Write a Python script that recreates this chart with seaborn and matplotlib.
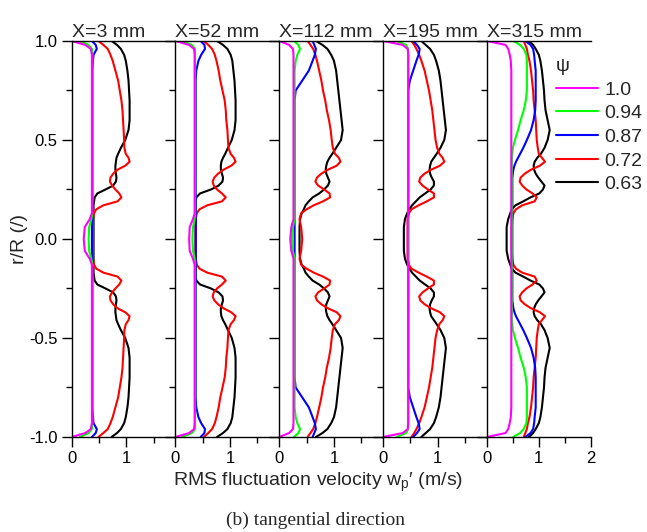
import numpy as np
import pandas as pd
import matplotlib
matplotlib.use("Agg")
import matplotlib.pyplot as plt
import seaborn as sns
from matplotlib.lines import Line2D
from matplotlib.ticker import FixedLocator, MultipleLocator, FormatStrFormatter

# r/R grid for the upper half (the measured profiles are mirror symmetric about r/R = 0)
R_HALF = [0.00, 0.06, 0.10, 0.13, 0.15, 0.17, 0.19, 0.21, 0.23, 0.25,
          0.27, 0.29, 0.31, 0.33, 0.35, 0.37, 0.39, 0.41, 0.43, 0.46,
          0.50, 0.55, 0.60, 0.65, 0.70, 0.75, 0.80, 0.85, 0.90, 0.93,
          0.96, 0.98, 1.00]

STATIONS = ["X=3 mm", "X=52 mm", "X=112 mm", "X=195 mm", "X=315 mm"]
PSI = ["1.0", "0.94", "0.87", "0.72", "0.63"]
COLORS = ["#ff00ff", "#00ff00", "#0000ff", "#ff0000", "#000000"]

# ---- X = 3 mm ----
X3_P100 = [0.22, 0.24, 0.33, 0.37, 0.37, 0.37, 0.37, 0.37, 0.37, 0.37,
           0.37, 0.37, 0.37, 0.37, 0.37, 0.37, 0.37, 0.37, 0.37, 0.37,
           0.37, 0.37, 0.37, 0.37, 0.37, 0.37, 0.37, 0.37, 0.37, 0.37,
           0.35, 0.25, 0.00]
X3_P094 = [0.31, 0.32, 0.36, 0.38, 0.38, 0.38, 0.38, 0.38, 0.38, 0.38,
           0.38, 0.38, 0.38, 0.38, 0.38, 0.38, 0.38, 0.38, 0.38, 0.38,
           0.38, 0.38, 0.38, 0.38, 0.38, 0.38, 0.38, 0.38, 0.38, 0.38,
           0.37, 0.31, 0.15]
X3_P087 = [0.37, 0.37, 0.38, 0.38, 0.38, 0.38, 0.38, 0.38, 0.38, 0.38,
           0.38, 0.38, 0.38, 0.38, 0.38, 0.38, 0.38, 0.38, 0.38, 0.38,
           0.38, 0.38, 0.38, 0.38, 0.38, 0.38, 0.38, 0.38, 0.39, 0.40,
           0.46, 0.44, 0.37]
X3_P072 = [0.39, 0.39, 0.39, 0.41, 0.45, 0.58, 0.84, 0.91, 0.87, 0.80,
           0.74, 0.70, 0.71, 0.76, 0.84, 0.98, 1.06, 1.04, 0.99, 0.965,
           0.96, 0.95, 0.94, 0.93, 0.91, 0.88, 0.85, 0.80, 0.75, 0.71,
           0.66, 0.58, 0.49]
X3_P063 = [0.40, 0.40, 0.40, 0.40, 0.40, 0.40, 0.41, 0.42, 0.47, 0.62,
           0.76, 0.81, 0.82, 0.81, 0.80, 0.80, 0.81, 0.82, 0.85, 0.90,
           0.98, 1.04, 1.06, 1.06, 1.06, 1.05, 1.04, 1.02, 0.99, 0.96,
           0.90, 0.83, 0.73]

# ---- X = 52 mm ----
X52_P100 = [0.25, 0.26, 0.32, 0.35, 0.35, 0.35, 0.35, 0.35, 0.35, 0.35,
            0.35, 0.35, 0.35, 0.35, 0.35, 0.35, 0.35, 0.35, 0.35, 0.35,
            0.35, 0.35, 0.35, 0.35, 0.35, 0.35, 0.35, 0.35, 0.35, 0.35,
            0.34, 0.25, 0.00]
X52_P094 = [0.31, 0.32, 0.35, 0.36, 0.36, 0.36, 0.36, 0.36, 0.36, 0.36,
            0.36, 0.36, 0.36, 0.36, 0.36, 0.36, 0.36, 0.36, 0.36, 0.36,
            0.36, 0.36, 0.36, 0.36, 0.36, 0.36, 0.36, 0.36, 0.36, 0.36,
            0.36, 0.30, 0.12]
X52_P087 = [0.37, 0.37, 0.37, 0.37, 0.37, 0.37, 0.37, 0.37, 0.37, 0.37,
            0.37, 0.37, 0.37, 0.37, 0.37, 0.37, 0.37, 0.37, 0.37, 0.37,
            0.37, 0.37, 0.37, 0.37, 0.37, 0.37, 0.37, 0.38, 0.42, 0.47,
            0.54, 0.53, 0.46]
X52_P072 = [0.37, 0.37, 0.37, 0.39, 0.44, 0.58, 0.85, 0.92, 0.85, 0.76,
            0.70, 0.68, 0.71, 0.78, 0.88, 1.02, 1.10, 1.07, 1.01, 0.97,
            0.96, 0.95, 0.93, 0.92, 0.90, 0.86, 0.82, 0.79, 0.75, 0.72,
            0.67, 0.60, 0.52]
X52_P063 = [0.37, 0.37, 0.37, 0.37, 0.37, 0.37, 0.37, 0.38, 0.45, 0.65,
            0.79, 0.86, 0.87, 0.85, 0.83, 0.83, 0.84, 0.87, 0.91, 0.96,
            1.03, 1.08, 1.10, 1.10, 1.10, 1.09, 1.08, 1.06, 1.04, 1.01,
            0.95, 0.87, 0.76]

# ---- X = 112 mm ----
X112_P100 = [0.20, 0.22, 0.26, 0.26, 0.26, 0.26, 0.26, 0.26, 0.26, 0.26,
             0.26, 0.26, 0.26, 0.26, 0.26, 0.26, 0.26, 0.26, 0.26, 0.26,
             0.26, 0.26, 0.26, 0.26, 0.26, 0.26, 0.26, 0.26, 0.26, 0.26,
             0.25, 0.18, 0.00]
X112_P094 = [0.23, 0.25, 0.28, 0.28, 0.28, 0.28, 0.28, 0.28, 0.28, 0.28,
             0.28, 0.28, 0.28, 0.28, 0.28, 0.28, 0.28, 0.28, 0.28, 0.28,
             0.28, 0.28, 0.28, 0.28, 0.28, 0.28, 0.28, 0.28, 0.30, 0.33,
             0.38, 0.35, 0.27]
X112_P087 = [0.28, 0.28, 0.28, 0.28, 0.28, 0.28, 0.28, 0.28, 0.28, 0.28,
             0.28, 0.28, 0.28, 0.28, 0.28, 0.28, 0.28, 0.28, 0.28, 0.28,
             0.28, 0.28, 0.28, 0.28, 0.28, 0.30, 0.42, 0.54, 0.61, 0.65,
             0.67, 0.64, 0.61]
X112_P072 = [0.42, 0.40, 0.37, 0.40, 0.50, 0.63, 0.80, 0.93, 0.92, 0.82,
             0.71, 0.66, 0.69, 0.77, 0.89, 1.05, 1.12, 1.09, 1.02, 0.98,
             0.96, 0.94, 0.91, 0.87, 0.84, 0.80, 0.77, 0.73, 0.69, 0.66,
             0.62, 0.57, 0.52]
X112_P063 = [0.37, 0.37, 0.38, 0.41, 0.45, 0.48, 0.54, 0.61, 0.73, 0.82,
             0.89, 0.92, 0.89, 0.86, 0.85, 0.86, 0.88, 0.92, 0.97, 1.04,
             1.13, 1.16, 1.14, 1.12, 1.10, 1.08, 1.06, 1.04, 1.00, 0.95,
             0.88, 0.79, 0.67]

# ---- X = 195 mm ----
X195_P100 = [0.45, 0.45, 0.45, 0.46, 0.46, 0.46, 0.46, 0.46, 0.46, 0.46,
             0.46, 0.46, 0.46, 0.46, 0.46, 0.46, 0.46, 0.46, 0.46, 0.46,
             0.46, 0.46, 0.46, 0.46, 0.46, 0.46, 0.46, 0.46, 0.46, 0.46,
             0.45, 0.36, 0.00]
X195_P094 = [0.46, 0.46, 0.46, 0.46, 0.46, 0.46, 0.46, 0.46, 0.46, 0.46,
             0.46, 0.46, 0.46, 0.46, 0.46, 0.46, 0.46, 0.46, 0.46, 0.46,
             0.46, 0.46, 0.46, 0.46, 0.46, 0.46, 0.46, 0.46, 0.46, 0.46,
             0.46, 0.42, 0.25]
X195_P087 = [0.46, 0.46, 0.46, 0.46, 0.46, 0.46, 0.46, 0.46, 0.46, 0.46,
             0.46, 0.46, 0.46, 0.46, 0.46, 0.46, 0.46, 0.46, 0.46, 0.46,
             0.46, 0.46, 0.46, 0.46, 0.46, 0.46, 0.49, 0.55, 0.61, 0.65,
             0.67, 0.62, 0.55]
X195_P072 = [0.45, 0.45, 0.45, 0.47, 0.52, 0.65, 0.80, 0.93, 0.93, 0.82,
             0.72, 0.66, 0.68, 0.76, 0.88, 1.04, 1.12, 1.09, 1.03, 0.99,
             0.96, 0.94, 0.92, 0.90, 0.87, 0.84, 0.80, 0.76, 0.70, 0.66,
             0.61, 0.57, 0.52]
X195_P063 = [0.38, 0.38, 0.40, 0.44, 0.48, 0.53, 0.60, 0.67, 0.77, 0.87,
             0.93, 0.93, 0.89, 0.86, 0.85, 0.86, 0.88, 0.93, 0.98, 1.05,
             1.12, 1.15, 1.13, 1.11, 1.09, 1.07, 1.05, 1.02, 0.97, 0.93,
             0.86, 0.78, 0.70]

# ---- X = 315 mm ----
X315_P100 = [0.47, 0.47, 0.47, 0.47, 0.47, 0.47, 0.47, 0.47, 0.47, 0.47,
             0.47, 0.47, 0.47, 0.47, 0.47, 0.47, 0.47, 0.47, 0.47, 0.47,
             0.47, 0.47, 0.47, 0.47, 0.47, 0.47, 0.47, 0.47, 0.46, 0.44,
             0.41, 0.36, 0.00]
X315_P094 = [0.48, 0.48, 0.48, 0.48, 0.48, 0.48, 0.48, 0.48, 0.48, 0.48,
             0.48, 0.48, 0.48, 0.48, 0.48, 0.48, 0.48, 0.48, 0.49, 0.50,
             0.54, 0.60, 0.65, 0.71, 0.75, 0.77, 0.77, 0.77, 0.77, 0.76,
             0.71, 0.64, 0.51]
X315_P087 = [0.49, 0.49, 0.49, 0.49, 0.49, 0.49, 0.49, 0.49, 0.49, 0.49,
             0.49, 0.49, 0.49, 0.50, 0.51, 0.53, 0.56, 0.60, 0.64, 0.70,
             0.77, 0.85, 0.90, 0.93, 0.94, 0.94, 0.94, 0.94, 0.92, 0.91,
             0.89, 0.84, 0.74]
X315_P072 = [0.48, 0.48, 0.49, 0.51, 0.56, 0.68, 0.92, 0.96, 0.88, 0.76,
             0.68, 0.63, 0.65, 0.73, 0.85, 1.02, 1.12, 1.06, 1.00, 0.98,
             0.96, 0.95, 0.94, 0.92, 0.90, 0.89, 0.87, 0.85, 0.82, 0.79,
             0.77, 0.74, 0.71]
X315_P063 = [0.38, 0.38, 0.41, 0.45, 0.48, 0.55, 0.70, 0.84, 1.01, 1.08,
             1.11, 1.05, 0.99, 0.94, 0.91, 0.90, 0.92, 0.97, 1.04, 1.11,
             1.17, 1.21, 1.17, 1.13, 1.11, 1.10, 1.08, 1.06, 1.03, 1.00,
             0.94, 0.89, 0.81]

PANELS = [
    [X3_P100, X3_P094, X3_P087, X3_P072, X3_P063],
    [X52_P100, X52_P094, X52_P087, X52_P072, X52_P063],
    [X112_P100, X112_P094, X112_P087, X112_P072, X112_P063],
    [X195_P100, X195_P094, X195_P087, X195_P072, X195_P063],
    [X315_P100, X315_P094, X315_P087, X315_P072, X315_P063],
]

rows = []
for st, curves in zip(STATIONS, PANELS):
    for psi, vals in zip(PSI, curves):
        assert len(vals) == len(R_HALF), (st, psi, len(vals))
        r_full = [-r for r in reversed(R_HALF)] + R_HALF[1:]
        v_full = list(reversed(vals)) + vals[1:]
        for r, v in zip(r_full, v_full):
            rows.append({"station": st, "psi": psi, "r": r, "v": v})
df = pd.DataFrame(rows)

sns.set_theme(style="ticks")
plt.rcParams["font.family"] = ["Liberation Sans", "DejaVu Sans"]
plt.rcParams["mathtext.fontset"] = "custom"
plt.rcParams["mathtext.rm"] = "Liberation Sans"
plt.rcParams["mathtext.it"] = "Liberation Sans"
plt.rcParams["axes.unicode_minus"] = False

fig = plt.figure(figsize=(6.47, 5.32), dpi=100)
axes = fig.subplots(1, 5, sharey=True)
fig.subplots_adjust(left=0.1108, right=0.913, top=0.923, bottom=0.1786, wspace=0)

palette = dict(zip(PSI, COLORS))
draw_order = PSI[::-1]

for i, (ax, st) in enumerate(zip(axes, STATIONS)):
    sub = df[df["station"] == st]
    sns.lineplot(data=sub, x="v", y="r", hue="psi", hue_order=draw_order,
                 palette=palette, orient="y", sort=True, estimator=None,
                 linewidth=1.5, legend=False, ax=ax)
    last = i == len(STATIONS) - 1
    ax.set_xlim(0, 2.0 if last else 1.9)
    ax.set_ylim(-1, 1)
    ax.xaxis.set_major_locator(FixedLocator([0, 1, 2] if last else [0, 1]))
    ax.xaxis.set_minor_locator(FixedLocator([0.5, 1.5]))
    ax.yaxis.set_major_locator(MultipleLocator(0.5))
    ax.yaxis.set_minor_locator(MultipleLocator(0.25))
    ax.yaxis.set_major_formatter(FormatStrFormatter("%.1f"))
    ax.spines["right"].set_visible(False)
    for s in ["left", "top", "bottom"]:
        ax.spines[s].set_linewidth(1.0)
        ax.spines[s].set_color("black")
    ax.tick_params(which="major", direction="out", length=7, width=1.0,
                   labelsize=12, colors="black", pad=3)
    ax.tick_params(which="minor", direction="out", length=4, width=1.0, colors="black")
    ax.set_xlabel("")
    ax.set_ylabel("")
    if i > 0:
        ax.tick_params(labelleft=False)
    ax.set_title(st, loc="left", fontsize=14, pad=2)

axes[0].set_ylabel("r/R (/)", fontsize=14, labelpad=1)

fig.text(0.4915, 0.094, "RMS fluctuation velocity w$_\\mathrm{p}$\u2032 (m/s)",
         ha="center", va="center", fontsize=14)
fig.text(0.487, 0.021, "(b) tangential direction", ha="center", va="center",
         fontsize=14, family="Liberation Serif")

handles = [Line2D([0], [0], color=c, lw=1.5) for c in COLORS]
leg = fig.legend(handles, PSI, title="\u03c8", loc="upper left",
                 bbox_to_anchor=(0.859, 0.891), frameon=False, fontsize=14,
                 title_fontsize=14, handlelength=2.15, handletextpad=0.35,
                 labelspacing=0.31, borderpad=0, borderaxespad=0)
leg._legend_box.align = "left"

fig.savefig("out.png", dpi=100)
